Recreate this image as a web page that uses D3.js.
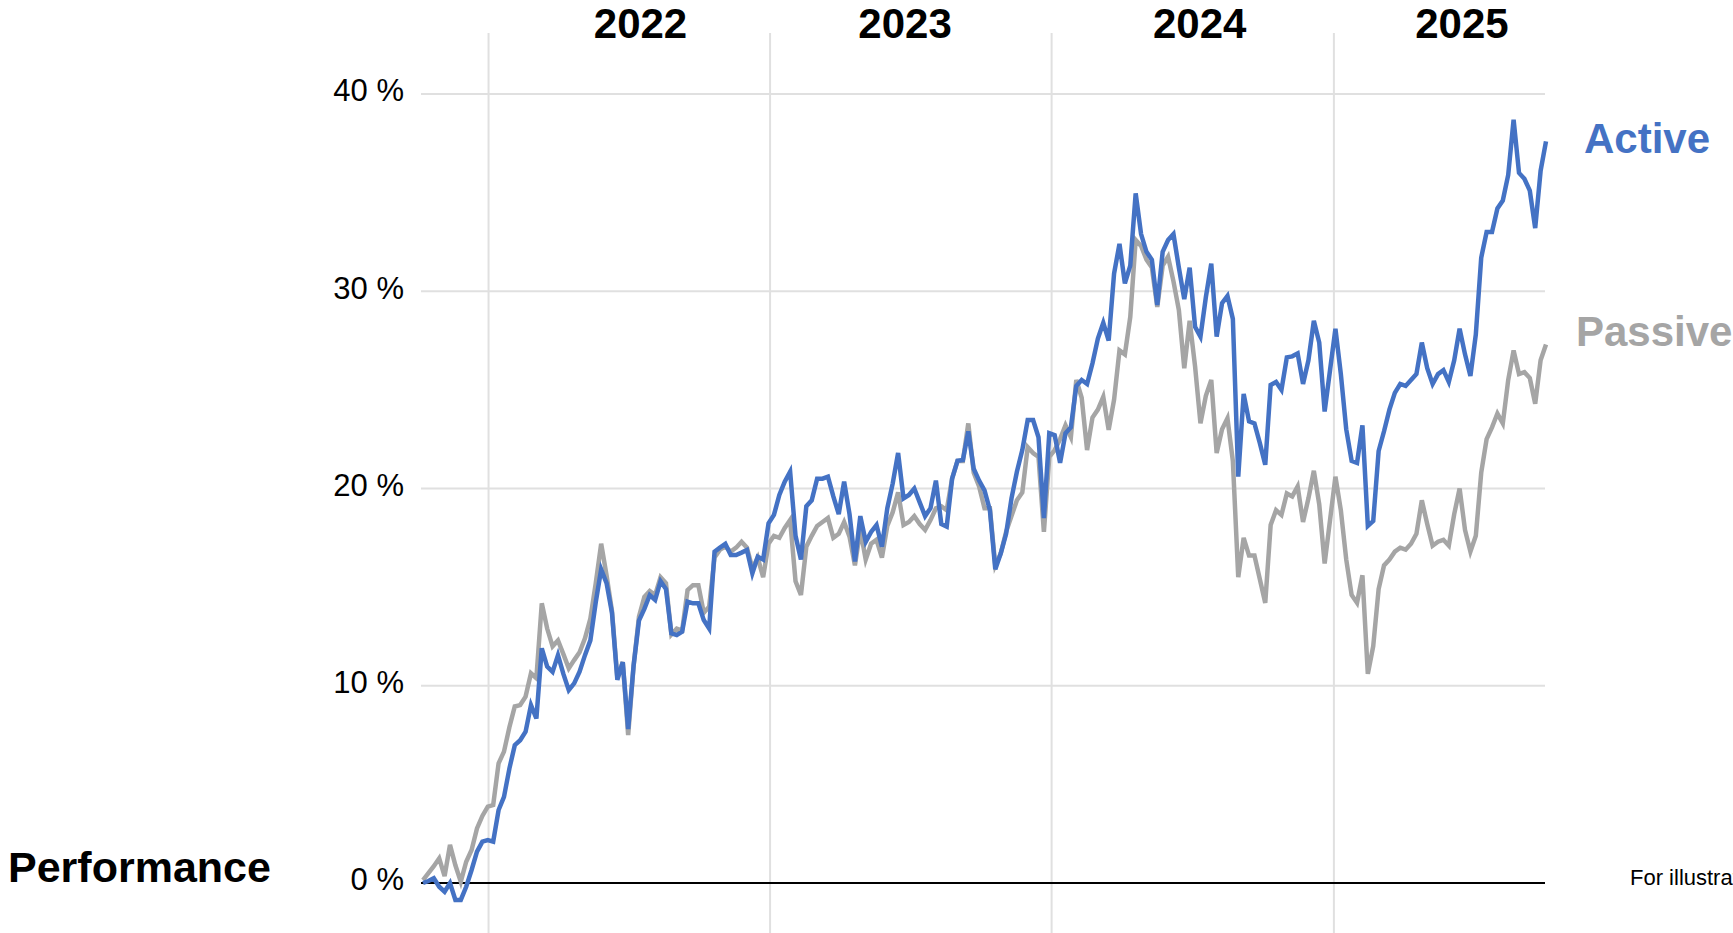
<!DOCTYPE html>
<html>
<head>
<meta charset="utf-8">
<script src="https://cdn.jsdelivr.net/npm/d3@7"></script>
<style>
  html, body { margin: 0; padding: 0; background: #fff; overflow: hidden; }
  svg { display: block; font-family: "Liberation Sans", Arial, Helvetica, sans-serif; }
</style>
</head>
<body>
<svg id="chart" width="1733" height="933"></svg>
<script>
// Weekly cumulative performance (%), first observation on the start date below
const startDate = "2021-10-08";

const activeValues = [
  0.0, 0.1, 0.24, -0.19, -0.44, 0.0, -0.86, -0.86, -0.19, 0.66,
  1.59, 2.1, 2.18, 2.1, 3.7, 4.37, 5.8, 6.99, 7.24, 7.67,
  9.02, 8.34, 11.9, 10.97, 10.7, 11.55, 10.6, 9.78, 10.12, 10.71,
  11.55, 12.3, 14.24, 15.9, 15.2, 13.7, 10.3, 11.2, 7.8, 11.0,
  13.3, 13.9, 14.6, 14.35, 15.3, 14.9, 12.66, 12.57, 12.74, 14.26,
  14.18, 14.18, 13.33, 12.9, 16.8, 17.0, 17.19, 16.63, 16.63, 16.75,
  16.88, 15.7, 16.54, 16.4, 18.23, 18.66, 19.67, 20.35, 20.85, 17.6,
  16.4, 19.1, 19.4, 20.5, 20.5, 20.6, 19.6, 18.7, 20.35, 18.7,
  16.3, 18.6, 17.3, 17.8, 18.15, 17.05, 19.0, 20.26, 21.8, 19.5,
  19.67, 20.0, 19.3, 18.6, 19.0, 20.4, 18.2, 18.07, 20.5, 21.4,
  21.44, 22.9, 21.0, 20.4, 19.9, 18.9, 15.9, 16.7, 17.7, 19.5,
  20.85, 21.95, 23.47, 23.47, 22.6, 18.5, 22.8, 22.7, 21.3, 22.8,
  23.1, 25.2, 25.5, 25.3, 26.35, 27.6, 28.4, 27.5, 30.9, 32.4,
  30.4, 31.3, 34.96, 32.9, 32.0, 31.6, 29.3, 32.0, 32.6, 32.9,
  31.2, 29.6, 31.2, 28.2, 27.7, 29.7, 31.4, 27.7, 29.4, 29.76,
  28.6, 20.6, 24.8, 23.4, 23.3, 22.3, 21.2, 25.25, 25.4, 25.0,
  26.65, 26.7, 26.85, 25.3, 26.5, 28.5, 27.4, 23.9, 26.0, 28.1,
  25.8, 23.0, 21.4, 21.3, 23.2, 18.1, 18.35, 21.9, 22.9, 24.0,
  24.85, 25.3, 25.2, 25.5, 25.8, 27.4, 26.1, 25.3, 25.8, 26.0,
  25.4, 26.5, 28.1, 26.8, 25.7, 27.8, 31.7, 33.0, 33.0, 34.2,
  34.6, 35.9, 38.7, 36.0, 35.7, 35.1, 33.2, 36.1, 37.6
];

const passiveValues = [
  0.15, 0.5, 0.85, 1.25, 0.35, 1.93, 0.9, 0.07, 1.08, 1.67,
  2.77, 3.4, 3.87, 3.95, 6.07, 6.66, 7.9, 8.95, 9.02, 9.45,
  10.63, 10.38, 14.18, 12.9, 12.0, 12.3, 11.6, 10.88, 11.3, 11.7,
  12.4, 13.4, 15.2, 17.2, 15.6, 13.8, 10.4, 11.2, 7.5, 11.0,
  13.5, 14.5, 14.8, 14.6, 15.5, 15.2, 12.6, 12.9, 12.8, 14.85,
  15.1, 15.1, 13.7, 14.0, 16.5, 16.9, 17.05, 16.8, 17.0, 17.3,
  17.0, 15.95, 16.5, 15.5, 17.2, 17.6, 17.5, 18.0, 18.4, 15.3,
  14.6, 17.05, 17.6, 18.1, 18.3, 18.5, 17.5, 17.7, 18.3, 17.56,
  16.1, 17.9, 16.4, 17.2, 17.4, 16.5, 18.1, 18.8, 19.8, 18.15,
  18.3, 18.6, 18.2, 17.9, 18.4, 19.0, 19.1, 18.9, 20.5, 21.4,
  21.4, 23.3, 20.8, 20.1, 19.0, 19.0, 16.1, 16.7, 17.8, 18.6,
  19.4, 19.8, 22.1, 21.8, 21.6, 17.8, 21.6, 21.95, 22.5, 23.2,
  22.6, 25.5, 24.6, 21.95, 23.6, 24.0, 24.65, 22.97, 24.5, 27.0,
  26.8, 28.7, 32.6, 32.3, 31.6, 31.2, 29.2, 31.3, 31.75, 30.5,
  29.05, 26.1, 28.5, 26.2, 23.3, 24.7, 25.5, 21.8, 23.0, 23.56,
  21.4, 15.5, 17.5, 16.6, 16.6, 15.4, 14.2, 18.15, 18.9, 18.66,
  19.75, 19.6, 20.1, 18.3, 19.5, 20.9, 19.2, 16.2, 18.4, 20.6,
  18.9, 16.4, 14.6, 14.2, 15.6, 10.6, 12.0, 14.9, 16.1, 16.4,
  16.8, 17.0, 16.9, 17.2, 17.7, 19.4, 18.2, 17.1, 17.3, 17.4,
  17.1, 18.7, 20.0, 17.9, 16.8, 17.6, 20.8, 22.5, 23.1, 23.8,
  23.3, 25.5, 27.0, 25.8, 25.9, 25.6, 24.3, 26.5, 27.3
];

const seriesNames = ["Active", "Passive"];
const yTickValues = [0, 10, 20, 30, 40];
const yearLabels = ["2022", "2023", "2024", "2025"];
const yearLabelDates = ["2022-07-17", "2023-06-25", "2024-07-11", "2025-06-16"];
const chartTitle = "Performance";
const footnote = "For illustrative purposes only";

// ---- layout ----
const W = 1733, H = 933;
const plotLeft = 423, plotRight = 1546;
const gridLeft = 421, gridRight = 1545;
const yZero = 883, yTop = 94;

const colors = { Active: "#4472C4", Passive: "#A5A5A5" };

const parseDay = d3.utcParse("%Y-%m-%d");
const t0 = parseDay(startDate);
const dates = activeValues.map((_, i) => d3.utcDay.offset(t0, 7 * i));

const x = d3.scaleUtc()
  .domain([dates[0], dates[dates.length - 1]])
  .range([plotLeft, plotRight]);

const y = d3.scaleLinear().domain([0, 40]).range([yZero, yTop]);

const svg = d3.select("#chart");

// vertical year separators
const yearStarts = d3.utcYear.range(d3.utcYear.ceil(dates[0]), dates[dates.length - 1]);
svg.append("g")
  .selectAll("line")
  .data(yearStarts)
  .join("line")
  .attr("x1", d => x(d)).attr("x2", d => x(d))
  .attr("y1", 33).attr("y2", H)
  .attr("stroke", "#e0e0e0")
  .attr("stroke-width", 2);

// horizontal gridlines
svg.append("g")
  .selectAll("line")
  .data(yTickValues.filter(v => v !== 0))
  .join("line")
  .attr("x1", gridLeft).attr("x2", gridRight)
  .attr("y1", d => y(d)).attr("y2", d => y(d))
  .attr("stroke", "#e0e0e0")
  .attr("stroke-width", 2);

// zero baseline
svg.append("line")
  .attr("x1", gridLeft).attr("x2", gridRight)
  .attr("y1", y(0)).attr("y2", y(0))
  .attr("stroke", "#000")
  .attr("stroke-width", 2);

// y axis labels
const yAxis = d3.axisLeft(y)
  .tickValues(yTickValues)
  .tickSize(0)
  .tickPadding(0)
  .tickFormat(d => d + " %");

const yAxisG = svg.append("g")
  .attr("transform", `translate(404,0)`)
  .call(yAxis);
yAxisG.select(".domain").remove();
yAxisG.selectAll("text")
  .attr("dy", "0.22em")
  .attr("font-size", 31)
  .attr("font-family", "\"Liberation Sans\", Arial, sans-serif")
  .attr("fill", "#000");

// year labels
svg.append("g")
  .selectAll("text")
  .data(yearLabels)
  .join("text")
  .attr("x", (d, i) => x(parseDay(yearLabelDates[i])))
  .attr("y", 38)
  .attr("text-anchor", "middle")
  .attr("font-size", 42)
  .attr("font-weight", "bold")
  .attr("fill", "#000")
  .text(d => d);

// series lines (passive underneath)
const series = {
  Active: activeValues,
  Passive: passiveValues
};
const line = d3.line()
  .x((d, i) => x(dates[i]))
  .y(d => y(d));

["Passive", "Active"].forEach(name => {
  svg.append("path")
    .datum(series[name])
    .attr("fill", "none")
    .attr("stroke", colors[name])
    .attr("stroke-width", 4.5)
    .attr("stroke-linejoin", "miter")
    .attr("stroke-miterlimit", 4)
    .attr("d", line);
});

// series names at the right
const seriesLabelPos = { Active: [1584, 153], Passive: [1576, 346] };
svg.append("g")
  .selectAll("text")
  .data(seriesNames)
  .join("text")
  .attr("x", d => seriesLabelPos[d][0])
  .attr("y", d => seriesLabelPos[d][1])
  .attr("font-size", 42)
  .attr("font-weight", "bold")
  .attr("fill", d => colors[d])
  .text(d => d);

// chart title at the bottom left
svg.append("text")
  .attr("x", 8)
  .attr("y", 882)
  .attr("font-size", 43)
  .attr("font-weight", "bold")
  .attr("fill", "#000")
  .text(chartTitle);

// footnote
svg.append("text")
  .attr("x", 1630)
  .attr("y", 885)
  .attr("font-size", 22)
  .attr("fill", "#000")
  .text(footnote);
</script>
</body>
</html>
